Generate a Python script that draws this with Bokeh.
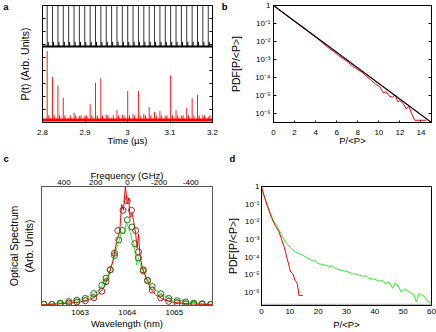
from bokeh.plotting import figure
from bokeh.models import Range1d, LinearAxis, LogAxis, FixedTicker, CustomJSTickFormatter, Title
from bokeh.layouts import column, row
from bokeh.embed import file_html
from bokeh.resources import INLINE

FONT = "Liberation Sans"
TICK_FS = "8px"
XLAB_FS = "9.5px"
YLAB_FS = "10.5px"

# ---------------- panel a : time traces ----------------
a_x_ticks = [2.8, 2.9, 3.0, 3.1, 3.2]
a_y_ticks = [1, 2, 3, 4, 5, 6, 7, 8]
a_pulse_t = [2.8110, 2.8236, 2.8363, 2.8489, 2.8615, 2.8742, 2.8868, 2.8994,
             2.9121, 2.9247, 2.9373, 2.9500, 2.9626, 2.9752, 2.9878, 3.0005,
             3.0131, 3.0257, 3.0384, 3.0510, 3.0636, 3.0763, 3.0889, 3.1015,
             3.1142, 3.1268, 3.1394, 3.1521, 3.1647, 3.1773, 3.1900]
a_black_base = 5.84
a_black_peak = 9.6
a_black_bump = 6.2
a_red_base = 0.19
a_red_peak = [5.5, 3.5, 2.85, 1.9, 0.35, 0.75, 0.5, 0.5, 1.4, 3.05, 3.4, 0.6,
              0.35, 0.95, 0.6, 2.43, 0.65, 2.43, 0.65, 1.19, 0.82, 0.9, 0.5,
              3.62, 0.94, 0.52, 1.14, 1.86, 2.13, 0.57, 0.45]
a_red_bump = 0.55

# ---------------- panel b : PDF narrow range ----------------
b_x_ticks = [0, 2, 4, 6, 8, 10, 12, 14]
b_y_ticks = [1e-6, 1e-5, 1e-4, 1e-3, 1e-2, 1e-1, 1.0]
b_theory_x = [0, 15]
b_theory_y = [1.0, 3.06e-7]
b_red_x = [0, 0.5, 1, 1.5, 2, 2.5, 3, 3.5, 4, 4.8, 5.3, 5.7, 6.2, 6.6, 7.1, 7.5,
           8.0, 8.4, 8.8, 9.3, 9.7, 10.1, 10.4, 10.7, 11.0, 11.3, 11.55, 11.8,
           12.0, 12.3, 12.6, 12.85, 13.1, 13.4, 14.5]
b_red_y = [1.0, 5.89e-1, 3.55e-1, 2.14e-1, 1.29e-1, 7.76e-2, 4.79e-2, 2.82e-2,
           1.74e-2, 7.24e-3, 3.98e-3, 2.82e-3, 1.58e-3, 1.12e-3, 6.76e-4,
           4.27e-4, 2.69e-4, 1.91e-4, 1.17e-4, 6.61e-5, 4.17e-5, 3.02e-5,
           1.41e-5, 1.58e-5, 8.91e-6, 7.94e-6, 1.05e-5, 4.47e-6, 5.01e-6,
           3.55e-6, 1.78e-6, 2.51e-6, 1.0e-6, 4.07e-7, 4.07e-7]

# ---------------- panel c : optical spectra ----------------
c_wl_ticks = [1063, 1064, 1065]
c_freq_ticks = [400, 200, 0, -200, -400]
c_red_line_x = [1062.18, 1062.5, 1062.8, 1063.0, 1063.2, 1063.35, 1063.5, 1063.6,
                1063.7, 1063.78, 1063.84, 1063.88, 1063.92, 1063.96, 1064.0,
                1064.03, 1064.06, 1064.10, 1064.14, 1064.18, 1064.21, 1064.24,
                1064.27, 1064.32, 1064.4, 1064.5, 1064.6, 1064.8, 1065.0, 1065.3,
                1065.6, 1065.82]
c_red_line_y = [0.005, 0.012, 0.022, 0.03, 0.05, 0.08, 0.15, 0.24, 0.38, 0.55,
                0.62, 0.85, 0.80, 1.0, 0.86, 0.9, 0.74, 0.78, 0.70, 0.60, 0.48,
                0.60, 0.42, 0.32, 0.23, 0.14, 0.09, 0.045, 0.025, 0.014, 0.009,
                0.006]
c_green_line_x = [1062.18, 1062.5, 1062.8, 1063.0, 1063.2, 1063.4, 1063.55,
                  1063.65, 1063.75, 1063.83, 1063.88, 1063.93, 1063.98, 1064.02,
                  1064.06, 1064.1, 1064.14, 1064.18, 1064.2, 1064.24, 1064.3,
                  1064.4, 1064.5, 1064.6, 1064.8, 1065.0, 1065.3, 1065.6, 1065.82]
c_green_line_y = [0.008, 0.018, 0.035, 0.05, 0.08, 0.13, 0.22, 0.31, 0.45, 0.55,
                  0.62, 0.60, 0.70, 0.66, 0.62, 0.55, 0.52, 0.40, 0.34, 0.40,
                  0.32, 0.24, 0.17, 0.13, 0.08, 0.05, 0.03, 0.015, 0.01]
c_red_pts_x = [1062.23, 1062.40, 1062.58, 1062.76, 1062.93, 1063.11, 1063.29,
               1063.46, 1063.55, 1063.64, 1063.73, 1063.80, 1063.91, 1064.00,
               1064.09, 1064.18, 1064.24, 1064.34, 1064.43, 1064.53, 1064.71,
               1064.88, 1065.06, 1065.24, 1065.41, 1065.59, 1065.77]
c_red_pts_y = [0.01, 0.01, 0.015, 0.02, 0.03, 0.04, 0.065, 0.12, 0.20, 0.30,
               0.44, 0.63, 0.80, 0.88, 0.80, 0.63, 0.45, 0.30, 0.21, 0.13,
               0.065, 0.035, 0.022, 0.015, 0.01, 0.01, 0.008]
c_green_pts_x = [1062.23, 1062.40, 1062.58, 1062.76, 1062.93, 1063.11, 1063.29,
                 1063.46, 1063.55, 1063.64, 1063.73, 1063.82, 1063.90, 1064.00,
                 1064.10, 1064.16, 1064.24, 1064.34, 1064.43, 1064.53, 1064.71,
                 1064.88, 1065.06, 1065.24, 1065.41, 1065.59, 1065.77]
c_green_pts_y = [0.01, 0.01, 0.02, 0.033, 0.045, 0.06, 0.10, 0.17, 0.23, 0.30,
                 0.42, 0.55, 0.63, 0.72, 0.66, 0.52, 0.40, 0.29, 0.21, 0.16,
                 0.10, 0.06, 0.04, 0.03, 0.02, 0.015, 0.01]

# ---------------- panel d : PDF wide range ----------------
d_x_ticks = [0, 10, 20, 30, 40, 50, 60]
d_y_ticks = [1e-6, 1e-5, 1e-4, 1e-3, 1e-2, 1e-1, 1.0]
d_red_x = [0, 1, 2, 2.6, 3.5, 5.0, 6.1, 7.0, 7.9, 9.1, 10.3, 11.1, 11.8, 12.6,
           13.0, 13.2, 14.6]
d_red_y = [1.0, 2.82e-1, 8.91e-2, 4.57e-2, 1.78e-2, 5.5e-3, 2.88e-3, 1.12e-3,
           4.27e-4, 7.94e-5, 1.45e-5, 1.17e-5, 5.01e-6, 3.31e-6, 1.41e-6,
           6.92e-7, 6.92e-7]
d_green_x = [0.2, 1, 2, 3.2, 4, 5.5, 7.3, 8.5, 9.7, 11, 12, 13, 14.4, 16, 18, 19,
             20.3, 21.5, 22.7, 24, 25, 26.2, 28, 29.8, 31, 32.1, 33.5, 34.5, 36,
             37, 38, 40, 41.6, 42.5, 43.9, 45, 46.3, 47.2, 48.5, 49.3, 50.5,
             51.5, 52.8, 53.8, 54.6, 55.7, 56.5, 57.5, 58.7, 60]
d_green_y = [0.631, 0.251, 8.91e-2, 2.95e-2, 1.41e-2, 5.5e-3, 1.55e-3, 7.08e-4,
             4.27e-4, 2.63e-4, 2.0e-4, 1.66e-4, 1.32e-4, 9.55e-5, 6.46e-5,
             6.03e-5, 4.17e-5, 3.98e-5, 3.39e-5, 3.02e-5, 3.16e-5, 2.24e-5,
             1.91e-5, 1.58e-5, 1.41e-5, 1.17e-5, 1.12e-5, 9.55e-6, 8.32e-6,
             8.91e-6, 6.31e-6, 5.62e-6, 4.47e-6, 4.79e-6, 3.31e-6, 3.98e-6,
             1.74e-6, 3.55e-6, 2.0e-6, 1.12e-6, 1.58e-6, 1.26e-6, 9.33e-7,
             7.94e-7, 2.95e-7, 9.33e-7, 7.08e-7, 6.03e-7, 2.95e-7, 2.95e-7]
d_floor_x = [0, 60]
d_floor_y = [2.1e-7, 2.1e-7]

EMPTY = "return ''"
LOGFMT = """
const e = Math.round(Math.log10(tick));
if (e === 0) { return '1'; }
const sup = {'-': '\u207b', '0': '\u2070', '1': '\u00b9', '2': '\u00b2', '3': '\u00b3',
             '4': '\u2074', '5': '\u2075', '6': '\u2076', '7': '\u2077', '8': '\u2078', '9': '\u2079'};
return '10' + String(e).split('').map(c => sup[c]).join('');
"""


def base_fig(w, h, l, r, t, b, **kw):
    p = figure(width=w, height=h, min_border_left=l, min_border_right=r,
               min_border_top=t, min_border_bottom=b, toolbar_location=None,
               output_backend="svg", **kw)
    p.xgrid.visible = False
    p.ygrid.visible = False
    p.outline_line_color = "black"
    p.outline_line_width = 1
    p.background_fill_color = "white"
    p.border_fill_color = "white"
    return p


def style_axis(ax, tick_in=0, mls=2, als=2):
    ax.axis_line_color = "black"
    ax.major_tick_in = tick_in
    ax.major_tick_out = 0
    ax.major_tick_line_color = "black"
    ax.minor_tick_in = 0
    ax.minor_tick_out = 0
    ax.major_label_text_font = FONT
    ax.major_label_text_font_size = TICK_FS
    ax.major_label_text_color = "black"
    ax.major_label_standoff = mls
    ax.axis_label_text_font = FONT
    ax.axis_label_text_font_style = "normal"
    ax.axis_label_text_color = "black"
    ax.axis_label_standoff = als


def panel_letter(p, txt, side, offset, standoff=0):
    p.add_layout(Title(text=txt, align="left", offset=offset, standoff=standoff,
                       text_font=FONT, text_font_size="9.5px", text_font_style="bold",
                       text_color="black"), side)


def letter_axis(axis_cls, txt, tick, mls):
    ax = axis_cls(ticker=FixedTicker(ticks=[tick]),
                  formatter=CustomJSTickFormatter(code="return '%s';" % txt))
    style_axis(ax, tick_in=0, mls=mls, als=0)
    ax.axis_line_color = None
    ax.major_tick_line_color = None
    ax.major_label_text_font_size = "9.5px"
    ax.major_label_text_font_style = "bold"
    return ax


# ---- panel a
pa = base_fig(218, 166, 41, 6, 5, 40,
              x_range=Range1d(2.8, 3.2), y_range=Range1d(0, 9))
pa.line([2.8, 3.2], [a_black_base, a_black_base], line_color="black", line_width=2)
pa.segment(x0=a_pulse_t, y0=[a_black_base] * len(a_pulse_t), x1=a_pulse_t,
           y1=[a_black_peak] * len(a_pulse_t), line_color="black", line_width=0.8)
pa.segment(x0=[t + 0.0025 for t in a_pulse_t], y0=[a_black_base] * len(a_pulse_t),
           x1=[t + 0.0025 for t in a_pulse_t], y1=[a_black_bump] * len(a_pulse_t),
           line_color="black", line_width=1)
pa.line([2.8, 3.2], [a_red_base, a_red_base], line_color="red", line_width=3)
pa.segment(x0=a_pulse_t, y0=[a_red_base] * len(a_pulse_t), x1=a_pulse_t,
           y1=a_red_peak, line_color="red", line_width=0.9)
pa.segment(x0=[t + 0.004 for t in a_pulse_t], y0=[a_red_base] * len(a_pulse_t),
           x1=[t + 0.004 for t in a_pulse_t], y1=[a_red_bump] * len(a_pulse_t),
           line_color="red", line_width=1)
pa.xaxis.ticker = FixedTicker(ticks=a_x_ticks)
pa.xaxis.formatter = CustomJSTickFormatter(code="return (Math.round(tick*10)/10).toString();")
pa.xaxis.axis_label = "Time (\u00b5s)"
pa.xaxis.axis_label_text_font_size = XLAB_FS
style_axis(pa.xaxis[0], tick_in=2, mls=7, als=-3)
pa.yaxis.ticker = FixedTicker(ticks=a_y_ticks)
pa.yaxis.formatter = CustomJSTickFormatter(code=EMPTY)
pa.yaxis.axis_label = "P(t) (Arb. Units)"
pa.yaxis.axis_label_text_font_size = YLAB_FS
style_axis(pa.yaxis[0], tick_in=3, mls=0, als=12)
ra = LinearAxis(ticker=FixedTicker(ticks=a_y_ticks), formatter=CustomJSTickFormatter(code=EMPTY))
style_axis(ra, tick_in=3, mls=0, als=0)
pa.add_layout(ra, "right")
pa.add_layout(letter_axis(LinearAxis, "a", 9, 7), "left")
panel_letter(pa, "c", "below", -39, standoff=5)

# ---- panel b
pb = base_fig(218, 166, 43, 5, 5, 40, y_axis_type="log",
              x_range=Range1d(0, 15), y_range=Range1d(b_theory_y[1], 1.0))
pb.line(b_red_x, b_red_y, line_color="red", line_width=1)
pb.line(b_theory_x, b_theory_y, line_color="black", line_width=1.2)
pb.xaxis.ticker = FixedTicker(ticks=b_x_ticks)
pb.xaxis.axis_label = "P/<P>"
pb.xaxis.axis_label_text_font_size = XLAB_FS
style_axis(pb.xaxis[0], tick_in=2, mls=7, als=-3)
pb.yaxis.ticker = FixedTicker(ticks=b_y_ticks)
pb.yaxis.formatter = CustomJSTickFormatter(code=LOGFMT)
pb.yaxis.axis_label = "PDF[P/<P>]"
pb.yaxis.axis_label_text_font_size = YLAB_FS
style_axis(pb.yaxis[0], tick_in=3, mls=3, als=10)
rb = LogAxis(ticker=FixedTicker(ticks=b_y_ticks), formatter=CustomJSTickFormatter(code=EMPTY))
style_axis(rb, tick_in=3, mls=0, als=0)
pb.add_layout(rb, "right")
pb.add_layout(letter_axis(LogAxis, "b", 1.0, 0), "left")
panel_letter(pb, "d", "below", -44, standoff=5)

# ---- panel c
pc = base_fig(218, 166, 41, 6, 19, 25,
              x_range=Range1d(1062.18, 1065.81), y_range=Range1d(0, 1.0))
pc.extra_x_ranges = {"freq": Range1d(541.7, -537.0)}
pc.line(c_green_line_x, c_green_line_y, line_color="#33ee33", line_width=1)
pc.line(c_red_line_x, c_red_line_y, line_color="red", line_width=1)
pc.scatter(c_red_pts_x, c_red_pts_y, marker="circle", size=6, fill_color=None,
           line_color="#b02020", line_width=1)
pc.scatter(c_green_pts_x, c_green_pts_y, marker="circle", size=6, fill_color=None,
           line_color="#1a7a1a", line_width=1)
pc.outline_line_color = "#555555"
pc.xaxis.ticker = FixedTicker(ticks=c_wl_ticks)
pc.xaxis.axis_label = "Wavelength (nm)"
pc.xaxis.axis_label_text_font_size = XLAB_FS
style_axis(pc.xaxis[0], tick_in=0, mls=4, als=0)
pc.xaxis.axis_line_color = "#555555"
pc.yaxis.ticker = FixedTicker(ticks=[])
pc.yaxis.axis_label = "Optical Spectrum\n(Arb. Units)"
pc.yaxis.axis_label_text_font_size = YLAB_FS
style_axis(pc.yaxis[0], tick_in=0, mls=0, als=7)
pc.yaxis.axis_line_color = "#555555"
tc = LinearAxis(x_range_name="freq", ticker=FixedTicker(ticks=c_freq_ticks),
                formatter=CustomJSTickFormatter(code="return tick.toString();"),
                axis_label="Frequency (GHz)")
tc.axis_label_text_font_size = XLAB_FS
style_axis(tc, tick_in=0, mls=2, als=-4)
tc.axis_line_color = "#555555"
pc.add_layout(tc, "above")

# ---- panel d
pd_ = base_fig(218, 166, 43, 5, 19, 25, y_axis_type="log",
               x_range=Range1d(0, 60), y_range=Range1d(1.86e-7, 1.0))
pd_.line(d_floor_x, d_floor_y, line_color="#bbbbbb", line_width=1.5)
pd_.line(d_green_x, d_green_y, line_color="#22ee22", line_width=1)
pd_.line(d_red_x, d_red_y, line_color="red", line_width=1)
pd_.xaxis.ticker = FixedTicker(ticks=d_x_ticks)
pd_.xaxis.axis_label = "P/<P>"
pd_.xaxis.axis_label_text_font_size = XLAB_FS
style_axis(pd_.xaxis[0], tick_in=0, mls=3, als=2)
pd_.yaxis.ticker = FixedTicker(ticks=d_y_ticks)
pd_.yaxis.formatter = CustomJSTickFormatter(code=LOGFMT)
pd_.yaxis.axis_label = "PDF[P/<P>]"
pd_.yaxis.axis_label_text_font_size = YLAB_FS
style_axis(pd_.yaxis[0], tick_in=0, mls=2, als=2)

layout = column(row(pa, pb), row(pc, pd_))
open("out.html", "w", encoding="utf-8").write(file_html(layout, INLINE))
